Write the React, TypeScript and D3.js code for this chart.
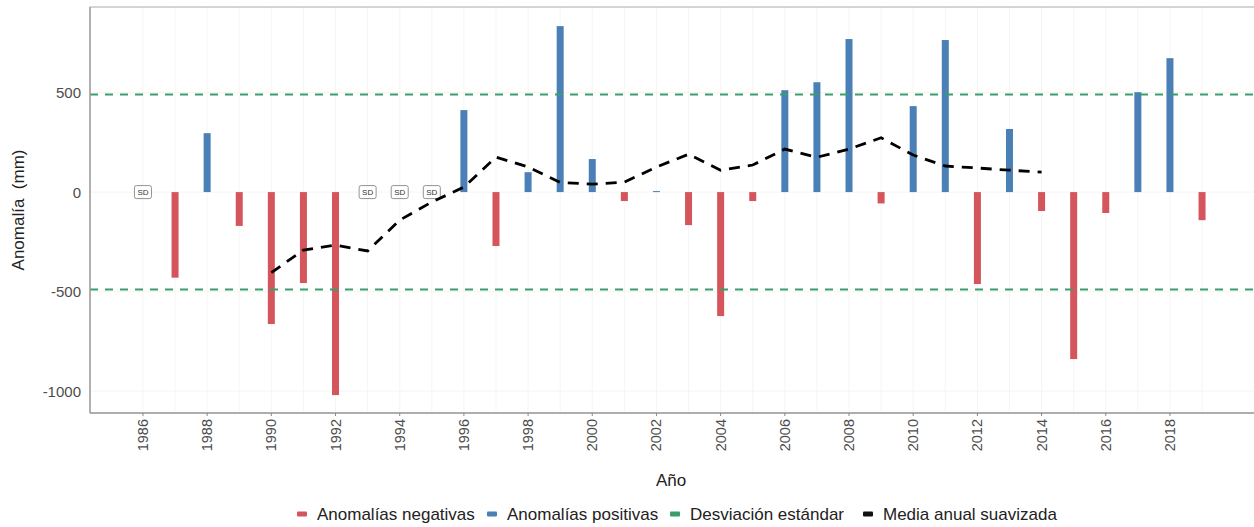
import React from 'react';
import * as d3 from 'd3';

// years and anomalies (mm); null = sin dato (SD)
const years = [
  1986, 1987, 1988, 1989, 1990, 1991, 1992, 1993, 1994, 1995, 1996, 1997, 1998, 1999, 2000, 2001, 2002,
  2003, 2004, 2005, 2006, 2007, 2008, 2009, 2010, 2011, 2012, 2013, 2014, 2015, 2016, 2017, 2018, 2019,
];
const anomalies: (number | null)[] = [
  null, -430, 296, -170, -663, -457, -1020, null, null, null, 412, -271, 100, 834, 166, -45, 5,
  -166, -623, -45, 512, 552, 769, -57, 432, 764, -462, 317, -95, -839, -105, 502, 673, -141,
];

// smoothed annual mean (1990-2014)
const smoothYears = [
  1990, 1991, 1992, 1993, 1994, 1995, 1996, 1997, 1998, 1999, 2000, 2001, 2002, 2003, 2004, 2005, 2006,
  2007, 2008, 2009, 2010, 2011, 2012, 2013, 2014,
];
const smoothValues = [
  -405, -291, -266, -296, -141, -50, 25, 176, 126, 48, 40, 50, 126, 190, 110, 136, 216, 175, 216, 273,
  186, 131, 121, 110, 100,
];

const sdValue = 490;
const yTicks = [500, 0, -500, -1000];
const xTicks = d3.range(1986, 2019, 2);

const legendItems = [
  { label: 'Anomalías negativas', color: '#d4555b' },
  { label: 'Anomalías positivas', color: '#4a80b6' },
  { label: 'Desviación estándar', color: '#3a9d6c' },
  { label: 'Media anual suavizada', color: '#111111' },
];

const W = 1254;
const H = 527;
const font = '"Liberation Sans", Arial, sans-serif';

export default function App() {
  const left = 90;
  const right = 1255;
  const top = 7;
  const bottom = 413;

  const x = d3.scaleLinear().domain([1984.35, 2020.65]).range([left, right]);
  const y = d3.scaleLinear().domain([-1110, 930]).range([bottom, top]);
  const barW = 7;

  const line = d3
    .line<number>()
    .x((_, i) => x(smoothYears[i]))
    .y((d) => y(d));

  const legendX = [297, 487, 670, 863];

  return (
    <div style={{ position: 'fixed', left: 0, top: 0, width: W, height: H, overflow: 'hidden' }}>
      <svg width={W} height={H} style={{ display: 'block', fontFamily: font }}>
        <rect width={W} height={H} fill="#fff" />
        {/* faint grid */}
        {years.map((yr) => (
          <line key={'g' + yr} x1={x(yr)} x2={x(yr)} y1={top} y2={bottom} stroke="#f3f3f3" strokeWidth={0.8} />
        ))}
        {yTicks.map((t) => (
          <line key={'gy' + t} x1={left} x2={right} y1={y(t)} y2={y(t)} stroke="#f3f3f3" strokeWidth={0.8} />
        ))}

        {/* bars */}
        {years.map((yr, i) => {
          const v = anomalies[i];
          if (v === null) return null;
          const y0 = y(0);
          const y1 = y(v);
          return (
            <rect
              key={'b' + yr}
              x={x(yr) - barW / 2}
              y={Math.min(y0, y1)}
              width={barW}
              height={Math.max(1, Math.abs(y1 - y0))}
              fill={v >= 0 ? legendItems[1].color : legendItems[0].color}
            />
          );
        })}

        {/* SD markers */}
        {years.map((yr, i) =>
          anomalies[i] === null ? (
            <g key={'sd' + yr} transform={`translate(${x(yr)},${y(0)})`}>
              <rect x={-8.5} y={-6.5} width={17} height={13} rx={2} fill="#fff" stroke="#777" strokeWidth={0.8} />
              <text textAnchor="middle" dominantBaseline="central" fontSize={8} fill="#333">
                SD
              </text>
            </g>
          ) : null,
        )}

        {/* standard deviation lines */}
        {[sdValue, -sdValue].map((v) => (
          <line
            key={'sdl' + v}
            x1={left}
            x2={right}
            y1={y(v)}
            y2={y(v)}
            stroke={legendItems[2].color}
            strokeWidth={2}
            strokeDasharray="8,7"
          />
        ))}

        {/* smoothed mean */}
        <path d={line(smoothValues) || ''} fill="none" stroke="#000" strokeWidth={2.8} strokeDasharray="11,8" />

        {/* panel frame */}
        <rect x={left} y={top} width={right - left} height={bottom - top} fill="none" stroke="#aaa" strokeWidth={1} />
        <line x1={left} x2={right} y1={bottom} y2={bottom} stroke="#888" strokeWidth={1.2} />
        <line x1={left} x2={left} y1={top} y2={bottom} stroke="#999" strokeWidth={1.2} />

        {/* y axis */}
        {yTicks.map((t) => (
          <text
            key={'yt' + t}
            x={81}
            y={y(t)}
            textAnchor="end"
            dominantBaseline="central"
            fontSize={15}
            fill="#4d4d4d"
          >
            {t}
          </text>
        ))}
        <text
          transform={`translate(18,${(top + bottom) / 2}) rotate(-90)`}
          textAnchor="middle"
          dominantBaseline="central"
          fontSize={17}
          fill="#222"
          style={{ whiteSpace: 'pre' }}
        >
          {'Anomalía  (mm)'}
        </text>

        {/* x axis */}
        {xTicks.map((t) => (
          <g key={'xt' + t}>
            <line x1={x(t)} x2={x(t)} y1={bottom} y2={bottom + 3} stroke="#888" />
            <text
              transform={`translate(${x(t)},${bottom + 6}) rotate(-90)`}
              textAnchor="end"
              dominantBaseline="central"
              fontSize={14.5}
              fill="#4d4d4d"
            >
              {t}
            </text>
          </g>
        ))}
        <text x={671} y={480} textAnchor="middle" dominantBaseline="central" fontSize={17} fill="#222">
          Año
        </text>

        {/* legend */}
        {legendItems.map((it, i) => (
          <g key={it.label} transform={`translate(${legendX[i]},514)`}>
            <rect x={0} y={-2.5} width={10} height={5} rx={1} fill={it.color} />
            <text x={20} y={0} dominantBaseline="central" fontSize={17} fill="#222">
              {it.label}
            </text>
          </g>
        ))}
      </svg>
    </div>
  );
}
